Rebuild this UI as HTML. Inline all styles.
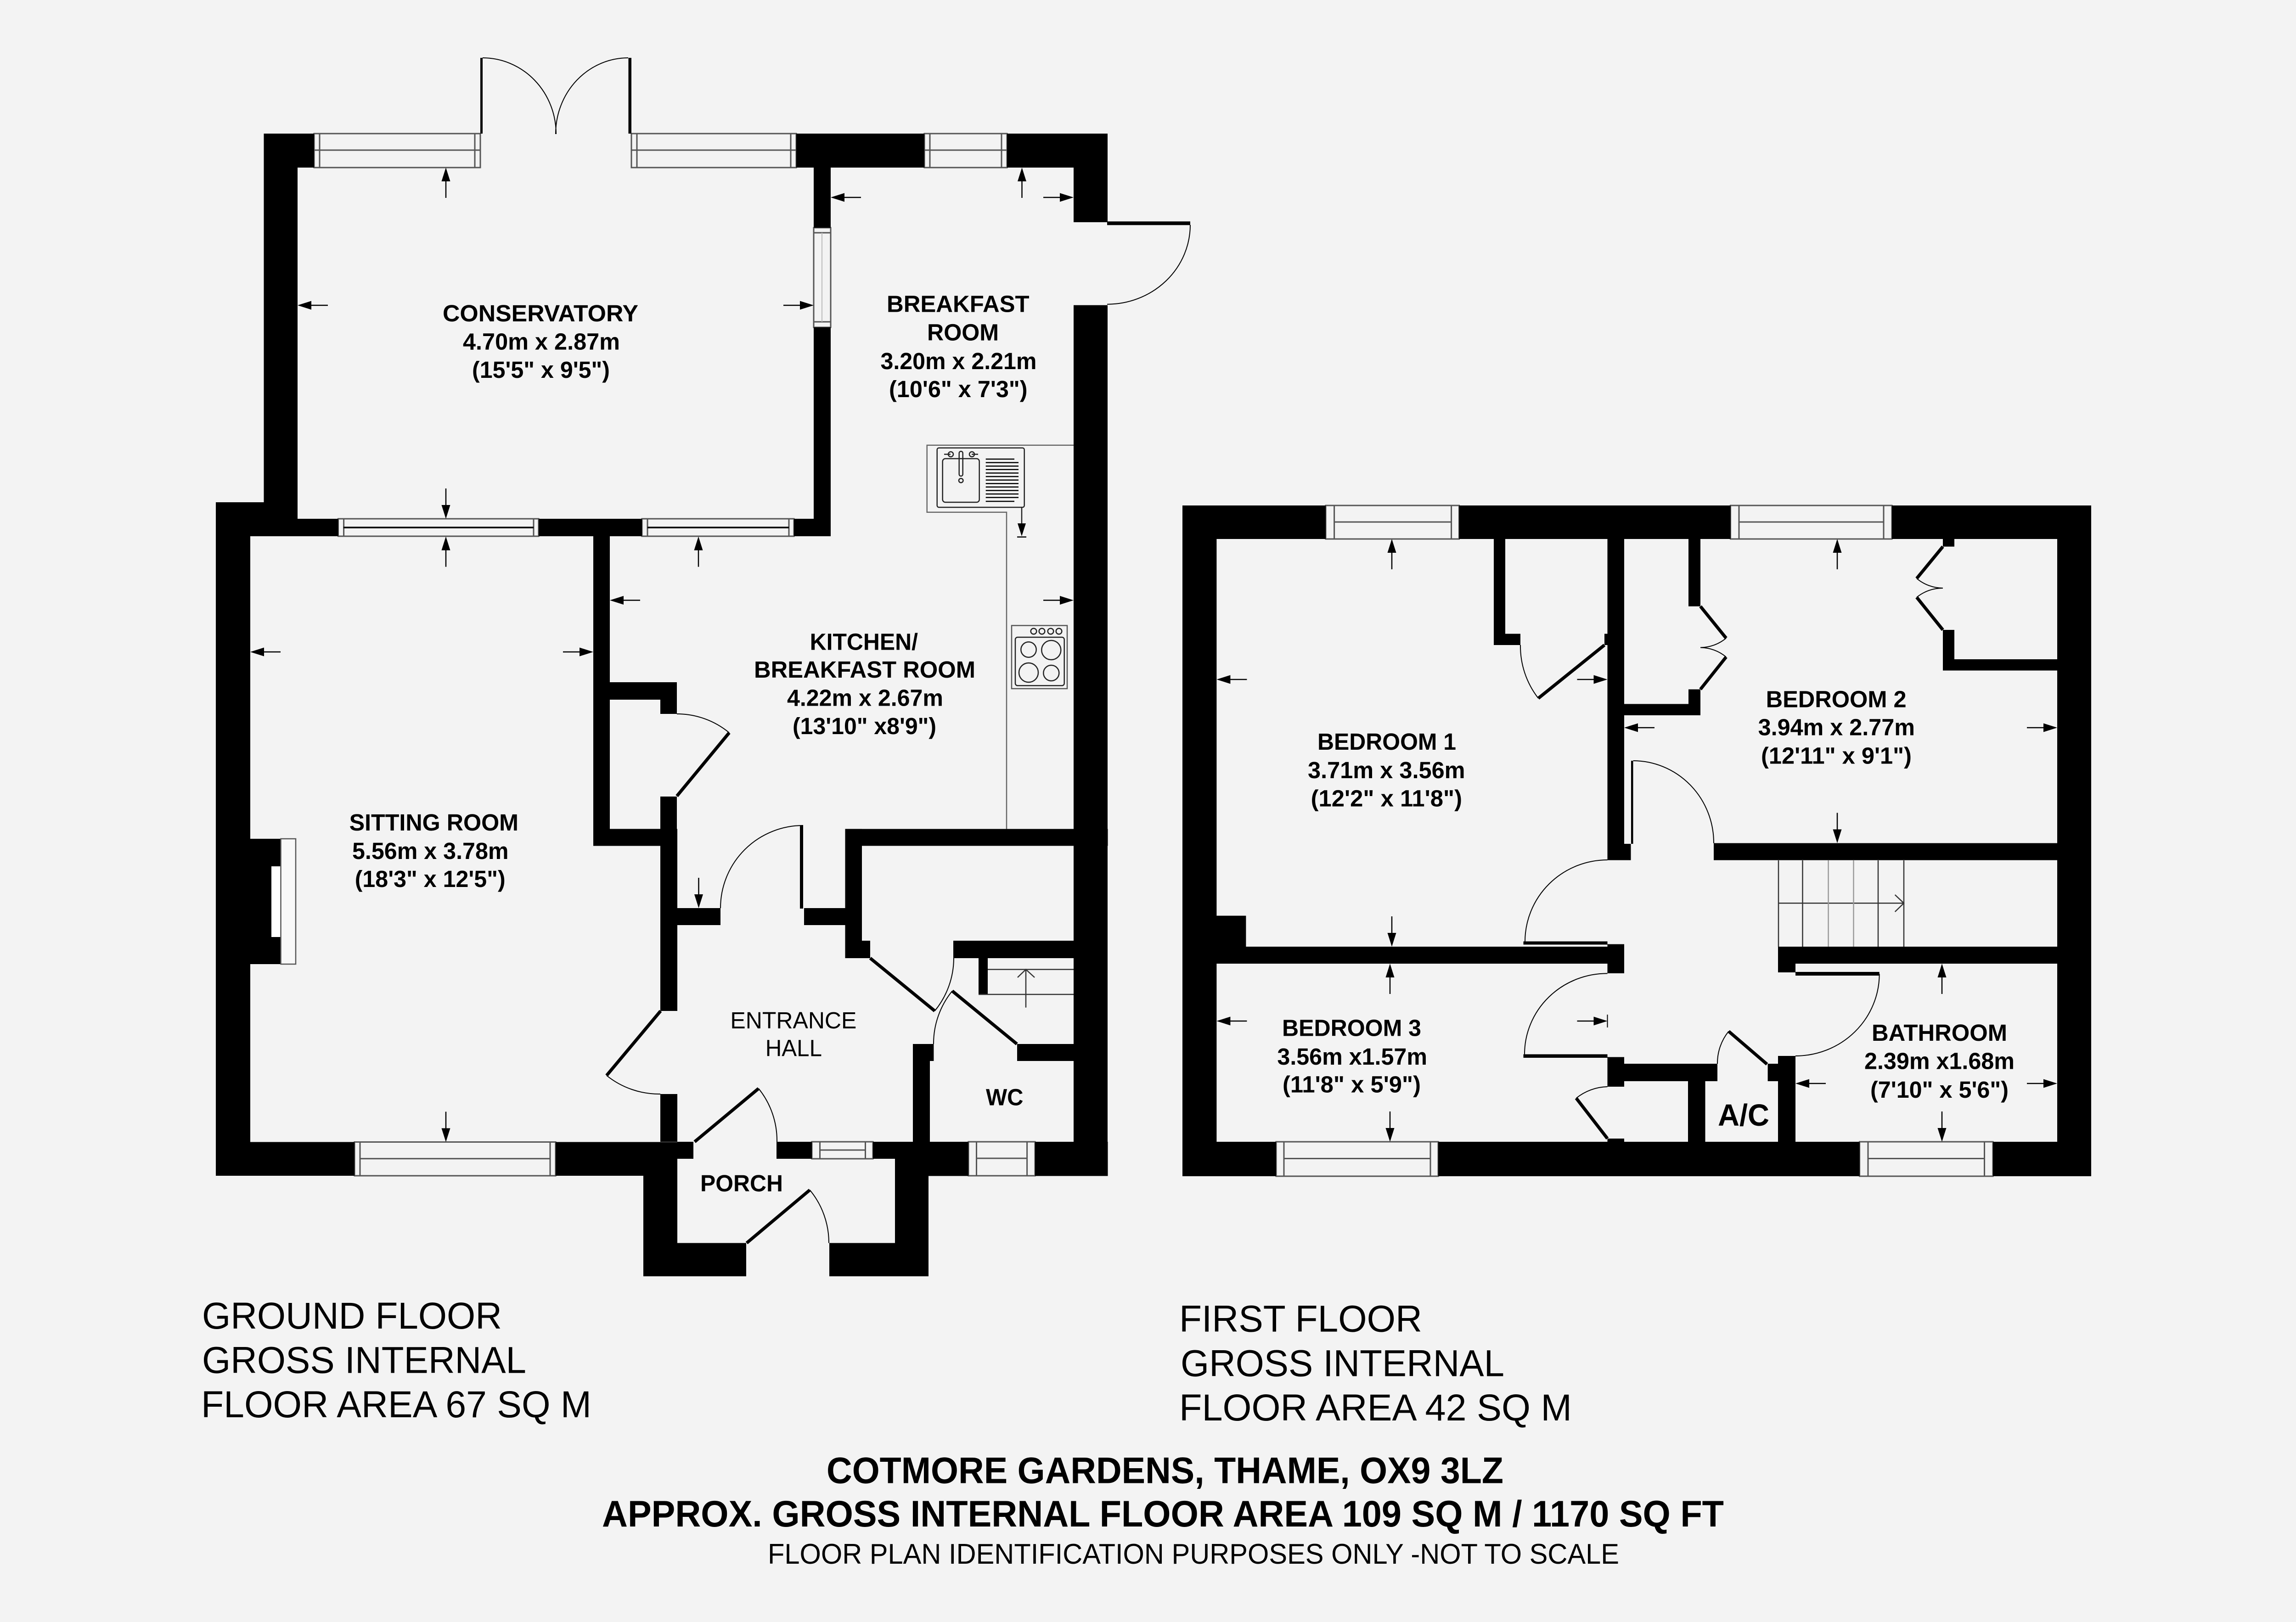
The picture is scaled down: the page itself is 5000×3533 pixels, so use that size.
<!DOCTYPE html>
<html><head><meta charset="utf-8"><title>Floor plan</title>
<style>
html,body{margin:0;padding:0;background:#f3f3f3}
svg{display:block}
text{font-family:"Liberation Sans",Arial,sans-serif;fill:#000}
.b{font-weight:bold;font-size:51px}
.r{font-size:51px}
.l{font-size:82px}
.h{font-size:81px;font-weight:bold}
.wf{fill:#f3f3f3;stroke:#555;stroke-width:3}
.wl{stroke:#555;stroke-width:3;fill:none}
.arc{fill:none;stroke:#000;stroke-width:2}
.leaf{fill:none;stroke:#000;stroke-width:7}
.th{fill:none;stroke:#333;stroke-width:2.5}
</style></head><body>
<svg xmlns="http://www.w3.org/2000/svg" width="5000" height="3533" viewBox="0 0 5000 3533">
<defs>
<g id="a"><path d="M0 0l-9.5 30h19z" fill="#000"/><path d="M0 20V66" stroke="#000" stroke-width="2.5"/></g>
</defs>
<rect width="5000" height="3533" fill="#f3f3f3"/>

<!-- GROUND FLOOR WINDOWS -->
<g>
<rect class="wf" x="684" y="291" width="362" height="74"/><path class="wl" d="M696 291V365M1034 291V365M684 327H1046"/>
<rect class="wf" x="1375" y="291" width="359" height="74"/><path class="wl" d="M1387 291V365M1722 291V365M1375 327H1734"/>
<rect class="wf" x="2013" y="291" width="180" height="74"/><path class="wl" d="M2025 291V365M2181 291V365M2013 327H2193"/>
<rect class="wf" x="1772" y="496" width="37" height="217"/><path class="wl" d="M1772 507H1809M1772 701H1809"/><path d="M1790 507V701" stroke="#bbb" stroke-width="2"/>
<rect class="wf" x="736.5" y="1130" width="436.5" height="38"/><path class="wl" d="M748.6 1130V1168M1162 1130V1168"/><path d="M748 1149H1162" stroke="#000" stroke-width="3.5"/>
<rect class="wf" x="1398" y="1130" width="331" height="38"/><path class="wl" d="M1410 1130V1168M1718 1130V1168"/><path d="M1410 1149H1718" stroke="#000" stroke-width="3.5"/>
<rect class="wf" x="772" y="2487.5" width="438" height="73.5"/><path class="wl" d="M784 2487.5V2561M1198 2487.5V2561M784 2523.7H1198"/>
<rect class="wf" x="1768" y="2487" width="133" height="37"/><path class="wl" d="M1785.5 2487V2524M1884.5 2487V2524M1785.5 2505H1884.5"/>
<rect class="wf" x="2109" y="2487" width="145" height="74"/><path class="wl" d="M2126.5 2487V2561M2236.6 2487V2561M2126.5 2523H2236.6"/>
</g>

<!-- GROUND FLOOR WALLS -->
<g fill="#000">
<rect x="574.5" y="291" width="73.5" height="803"/>
<rect x="574.5" y="291" width="109.5" height="74"/>
<rect x="1046" y="126" width="5" height="165"/>
<rect x="1368.5" y="126" width="6.5" height="165"/>
<rect x="1734" y="291" width="279" height="74"/>
<rect x="2193" y="291" width="219" height="74"/>
<rect x="2338" y="291" width="74" height="193"/>
<rect x="2338" y="664.7" width="74" height="1896.8"/>
<rect x="2411" y="482.3" width="181" height="8"/>
<rect x="1772" y="365" width="37" height="131"/>
<rect x="1772" y="713" width="37" height="455"/>
<rect x="470" y="1094" width="178" height="74"/>
<rect x="648" y="1130" width="88.5" height="38"/>
<rect x="1173" y="1130" width="225" height="38"/>
<rect x="1729" y="1130" width="80" height="38"/>
<rect x="470" y="1094" width="75" height="1467"/>
<rect x="545" y="1827" width="66.5" height="273"/>
<rect x="1292" y="1168" width="36" height="637.5"/>
<rect x="1292" y="1486" width="182" height="38"/>
<rect x="1438" y="1524" width="36" height="31"/>
<rect x="1438" y="1735" width="36" height="70.5"/>
<rect x="1292" y="1805.5" width="183" height="37"/>
<rect x="1438" y="1842" width="37" height="360"/>
<rect x="1475" y="1978" width="94" height="37"/>
<rect x="1742" y="1798" width="7" height="181"/>
<rect x="1751" y="1978" width="89.5" height="37"/>
<rect x="1840.5" y="1805.6" width="36.5" height="243.4"/>
<rect x="1840.5" y="1805.6" width="572" height="36.8"/>
<rect x="1840.5" y="2049" width="54.5" height="38"/>
<rect x="2076" y="2049" width="336" height="38"/>
<rect x="2131" y="2087" width="20" height="79"/>
<rect x="2215" y="2274" width="197" height="37"/>
<rect x="1988" y="2274" width="45.4" height="37"/>
<rect x="1988" y="2311" width="37" height="176"/>
<rect x="1438" y="2383" width="37" height="104"/>
<rect x="470" y="2487.5" width="302" height="73.5"/>
<rect x="1210" y="2487.5" width="265" height="73.5"/>
<rect x="1475" y="2487" width="35" height="37"/>
<rect x="1691" y="2487" width="77" height="37"/>
<rect x="1901" y="2487" width="208" height="37"/>
<rect x="1949" y="2487" width="160" height="74.5"/>
<rect x="2254" y="2487" width="158.5" height="74.5"/>
<rect x="1401" y="2561" width="74" height="219"/>
<rect x="1401" y="2707.5" width="224" height="72.5"/>
<rect x="1949" y="2561" width="73" height="219"/>
<rect x="1806" y="2707.5" width="216" height="72.5"/>
</g>
<!-- fireplace -->
<rect x="591" y="1887" width="20.5" height="154" fill="#fff"/>
<rect x="611.5" y="1827" width="32.5" height="273" fill="#f8f8f8" stroke="#555" stroke-width="2.5"/>

<!-- GROUND FLOOR DOORS -->
<path class="arc" d="M1051 126A160 166 0 0 1 1211 292M1368 126A158 166 0 0 0 1210 292"/>
<path class="arc" d="M2592 490A181 173 0 0 1 2411 662.7"/>
<path class="arc" d="M1474 1555A179 179 0 0 1 1588 1596"/>
<path class="leaf" d="M1588 1596L1474 1734"/>
<path class="arc" d="M1749 1798A180 180 0 0 0 1569 1978"/>
<path class="leaf" d="M1895 2087L2035.6 2202"/>
<path class="arc" d="M2035.6 2202A182 182 0 0 0 2077 2087"/>
<path class="leaf" d="M2214.5 2274L2073.7 2158.5"/>
<path class="arc" d="M2073.7 2158.5A182 182 0 0 0 2033 2274"/>
<path class="leaf" d="M1438.6 2202L1321 2342.6"/>
<path class="arc" d="M1321 2342.6A183 183 0 0 0 1438 2383"/>
<path class="leaf" d="M1512.7 2487L1652 2371"/>
<path class="arc" d="M1652 2371A181 181 0 0 1 1692 2487"/>
<path class="leaf" d="M1626 2707.5L1763.5 2592"/>
<path class="arc" d="M1763.5 2592A180 180 0 0 1 1805 2707.5"/>

<!-- stair stub ground -->
<path class="th" d="M2151 2111.6H2338M2131 2166H2338"/>
<path class="th" d="M2234 2194.6V2111.6M2216 2129L2234 2111.6L2253 2129"/>

<!-- KITCHEN FITTINGS -->
<path d="M2338 969.7H2018.7V1115.8H2192V1805.5" fill="none" stroke="#666" stroke-width="2.5"/>
<g fill="none" stroke="#222" stroke-width="2.5">
<rect x="2040.7" y="975.6" width="190" height="129.4" rx="4"/>
<rect x="2052.7" y="999" width="80" height="95" rx="6"/>
<rect x="2088.7" y="983" width="8" height="54" rx="4"/>
<ellipse cx="2092.7" cy="1046.7" rx="4.7" ry="4.6"/>
<circle cx="2070.5" cy="989.5" r="5.5"/>
<circle cx="2116.5" cy="989.5" r="5.5"/>
<path d="M2056 989.5H2070M2116 989.5H2130"/>
</g>
<path d="M2146.7 1000H2209M2146.7 1007.6H2218M2146.7 1015.2H2218M2146.7 1022.8H2218M2146.7 1030.4H2218M2146.7 1038H2218M2146.7 1045.6H2218M2146.7 1053.2H2218M2146.7 1060.8H2218M2146.7 1068.4H2218M2146.7 1076H2218M2146.7 1083.6H2218M2146.7 1092H2209" stroke="#000" stroke-width="2.5"/>
<path d="M2225 1105V1140" stroke="#222" stroke-width="2.5"/>
<path d="M2216 1140H2234L2225 1168z" fill="#000"/>
<path d="M2215 1169.6H2235" stroke="#000" stroke-width="2.5"/>
<g fill="none" stroke="#222" stroke-width="2.5">
<rect x="2203" y="1362.5" width="121" height="137.5" stroke="#555"/>
<rect x="2211" y="1388" width="106.7" height="105.4" rx="5"/>
<circle cx="2240" cy="1415" r="16.7"/><circle cx="2289.3" cy="1416" r="21"/>
<circle cx="2240" cy="1465" r="21"/><circle cx="2289.3" cy="1466" r="17"/>
<circle cx="2251" cy="1375" r="6.3"/><circle cx="2269" cy="1375" r="6.3"/><circle cx="2288" cy="1375" r="6.3"/><circle cx="2306" cy="1375" r="6.3"/>
</g>

<!-- GROUND FLOOR ARROWS -->
<use href="#a" transform="translate(971,365)"/>
<use href="#a" transform="translate(971,1130) rotate(180)"/>
<use href="#a" transform="translate(648,665) rotate(-90)"/>
<use href="#a" transform="translate(1772,665) rotate(90)"/>
<use href="#a" transform="translate(2225.5,365)"/>
<use href="#a" transform="translate(1809,430) rotate(-90)"/>
<use href="#a" transform="translate(2338,430) rotate(90)"/>
<use href="#a" transform="translate(971,1168.6)"/>
<use href="#a" transform="translate(1521,1168.6)"/>
<use href="#a" transform="translate(545,1420) rotate(-90)"/>
<use href="#a" transform="translate(1292,1420) rotate(90)"/>
<use href="#a" transform="translate(1328,1307.5) rotate(-90)"/>
<use href="#a" transform="translate(2338,1307.5) rotate(90)"/>
<use href="#a" transform="translate(971,2487.5) rotate(180)"/>
<use href="#a" transform="translate(1521.5,1978) rotate(180)"/>

<!-- FIRST FLOOR WINDOWS -->
<g>
<rect class="wf" x="2887" y="1101" width="290.5" height="73"/><path class="wl" d="M2905.6 1101V1174M3160.6 1101V1174M2905.6 1137H3160.6"/>
<rect class="wf" x="3768.5" y="1101" width="351.5" height="73"/><path class="wl" d="M3787 1101V1174M4102 1101V1174M3787 1137H4102"/>
<rect class="wf" x="2779" y="2487" width="353" height="75"/><path class="wl" d="M2796 2487V2562M3115 2487V2562M2796 2523.5H3115"/>
<rect class="wf" x="4049.6" y="2487" width="290.4" height="75"/><path class="wl" d="M4068 2487V2562M4321.5 2487V2562M4068 2523.5H4321.5"/>
</g>

<!-- FIRST FLOOR WALLS -->
<g fill="#000">
<rect x="2575" y="1101" width="312" height="73"/>
<rect x="3177.5" y="1101" width="591" height="73"/>
<rect x="4120" y="1101" width="434" height="73"/>
<rect x="2575" y="1101" width="74.4" height="1461"/>
<rect x="4480" y="1101" width="74" height="1461"/>
<rect x="2575" y="2487" width="204" height="75"/>
<rect x="3132" y="2487" width="917.6" height="75"/>
<rect x="4340" y="2487" width="214" height="75"/>
<rect x="3253" y="1174" width="25" height="206.5"/>
<rect x="3253" y="1380.5" width="58" height="24.5"/>
<rect x="3494" y="1380.5" width="43" height="24.5"/>
<rect x="3500.5" y="1174" width="36.5" height="664"/>
<rect x="3500.5" y="1838" width="51" height="35.6"/>
<rect x="3552" y="1657" width="4.5" height="181"/>
<rect x="3732" y="1836.5" width="822" height="37.1"/>
<rect x="3677" y="1174" width="26" height="146.7"/>
<rect x="3677" y="1501.5" width="26" height="32"/>
<rect x="3500.5" y="1533.4" width="202.5" height="24.6"/>
<rect x="4231" y="1174" width="25" height="16.6"/>
<rect x="4231" y="1372" width="25" height="64"/>
<rect x="4231" y="1436" width="323" height="24.5"/>
<rect x="2649" y="1994.6" width="64.4" height="67.4"/>
<rect x="2575" y="2062" width="962" height="37"/>
<rect x="3317.5" y="2050.5" width="183" height="7"/>
<rect x="3500.5" y="2056.6" width="36.5" height="6"/>
<rect x="3500.5" y="2099" width="36.5" height="21"/>
<rect x="3317.5" y="2296.4" width="183" height="7.6"/>
<rect x="3500.5" y="2302.5" width="36.5" height="15"/>
<rect x="3500.5" y="2317" width="239.5" height="38"/>
<rect x="3500.5" y="2355" width="36.5" height="12"/>
<rect x="3500.5" y="2480" width="36.5" height="7"/>
<rect x="3676" y="2355" width="37.5" height="132"/>
<rect x="3849.6" y="2317" width="60.4" height="38"/>
<rect x="3872" y="2355" width="38" height="132"/>
<rect x="3872" y="2300" width="38" height="17"/>
<rect x="3872" y="2062" width="682" height="37"/>
<rect x="3872" y="2099" width="38" height="19"/>
<rect x="3910" y="2117" width="182.7" height="8"/>
</g>

<!-- FIRST FLOOR DOORS -->
<path class="leaf" d="M3350 1521L3494 1405"/>
<path class="arc" d="M3311 1405A185 185 0 0 0 3350 1521"/>
<path class="arc" d="M3556.7 1657A176 179 0 0 1 3732 1836.5"/>
<path class="arc" d="M3500.5 1873A180 178 0 0 0 3321 2050.5"/>
<path class="arc" d="M3500.5 2120.4A180 176 0 0 0 3320 2296.4"/>
<path class="leaf" d="M3432.5 2392L3500.5 2480"/>
<path class="arc" d="M3500.5 2367A113 113 0 0 0 3432.5 2392"/>
<path class="leaf" d="M3764.5 2246.4L3848 2318"/>
<path class="arc" d="M3764.5 2246.4A110 110 0 0 0 3740 2317"/>
<path class="arc" d="M4092.7 2121.4A182.7 179 0 0 1 3910 2300"/>
<path class="leaf" d="M3703 1320.7L3759 1390M3759 1431L3703 1501.5M4231 1190.6L4174 1260M4174 1301L4231 1372"/>
<path class="arc" d="M3759 1390A89 89 0 0 1 3703 1410.5M3759 1431A89 89 0 0 0 3703 1410.5M4174 1260A90 90 0 0 0 4231 1281M4174 1301A90 90 0 0 1 4231 1281"/>

<!-- stairs -->
<path class="th" d="M3873 1874V2062M3925.5 1874V2062M4090 1874V2062M4146 1874V2062M3873 1967.3H4146M4126.7 1949L4146 1967.3L4126.7 1986"/>
<path d="M3981.6 1874V2062M4036.5 1874V2062" stroke="#999" stroke-width="2.5"/>

<!-- FIRST FLOOR ARROWS -->
<use href="#a" transform="translate(3031,1174)"/>
<use href="#a" transform="translate(2649.4,1480) rotate(-90)"/>
<use href="#a" transform="translate(3500.5,1480) rotate(90)"/>
<use href="#a" transform="translate(3031,2062) rotate(180)"/>
<use href="#a" transform="translate(4001,1174)"/>
<use href="#a" transform="translate(3537,1585) rotate(-90)"/>
<use href="#a" transform="translate(4480,1585) rotate(90)"/>
<use href="#a" transform="translate(4001,1836.5) rotate(180)"/>
<use href="#a" transform="translate(3027,2099)"/>
<use href="#a" transform="translate(2649.4,2224) rotate(-90)"/>
<use href="#a" transform="translate(3500.5,2224) rotate(90)"/>
<use href="#a" transform="translate(3027,2487) rotate(180)"/>
<path d="M3500.5 2210V2238" stroke="#000" stroke-width="2"/>
<use href="#a" transform="translate(4229,2099)"/>
<use href="#a" transform="translate(3910,2360) rotate(-90)"/>
<use href="#a" transform="translate(4480,2360) rotate(90)"/>
<use href="#a" transform="translate(4229,2487) rotate(180)"/>

<!-- ROOM LABELS -->
<g>
<text class="b" x="964" y="700" textLength="426" lengthAdjust="spacingAndGlyphs">CONSERVATORY</text>
<text class="b" x="1008" y="761.7" textLength="342" lengthAdjust="spacingAndGlyphs">4.70m x 2.87m</text>
<text class="b" x="1028" y="823" textLength="300" lengthAdjust="spacingAndGlyphs">(15'5&quot; x 9'5&quot;)</text>
<text class="b" x="1931" y="679.4" textLength="310.6" lengthAdjust="spacingAndGlyphs">BREAKFAST</text>
<text class="b" x="2019" y="741.7" textLength="156" lengthAdjust="spacingAndGlyphs">ROOM</text>
<text class="b" x="1917.5" y="804" textLength="340" lengthAdjust="spacingAndGlyphs">3.20m x 2.21m</text>
<text class="b" x="1936" y="865" textLength="301.6" lengthAdjust="spacingAndGlyphs">(10'6&quot; x 7'3&quot;)</text>
<text class="b" x="1763.6" y="1415.5" textLength="235.4" lengthAdjust="spacingAndGlyphs">KITCHEN/</text>
<text class="b" x="1642" y="1476" textLength="482" lengthAdjust="spacingAndGlyphs">BREAKFAST ROOM</text>
<text class="b" x="1714" y="1537.5" textLength="340" lengthAdjust="spacingAndGlyphs">4.22m x 2.67m</text>
<text class="b" x="1726" y="1599" textLength="313" lengthAdjust="spacingAndGlyphs">(13'10&quot; x8'9&quot;)</text>
<text class="b" x="760.6" y="1809" textLength="368.4" lengthAdjust="spacingAndGlyphs">SITTING ROOM</text>
<text class="b" x="767" y="1871" textLength="340.5" lengthAdjust="spacingAndGlyphs">5.56m x 3.78m</text>
<text class="b" x="772.7" y="1932" textLength="328" lengthAdjust="spacingAndGlyphs">(18'3&quot; x 12'5&quot;)</text>
<text class="r" x="1590.4" y="2240" textLength="275" lengthAdjust="spacingAndGlyphs">ENTRANCE</text>
<text class="r" x="1666.7" y="2300.4" textLength="123.3" lengthAdjust="spacingAndGlyphs">HALL</text>
<text class="b" x="2147" y="2407.5" textLength="81.5" lengthAdjust="spacingAndGlyphs">WC</text>
<text class="b" x="1525" y="2595" textLength="180" lengthAdjust="spacingAndGlyphs">PORCH</text>
<text class="b" x="2869" y="1633" textLength="302" lengthAdjust="spacingAndGlyphs">BEDROOM 1</text>
<text class="b" x="2848" y="1695" textLength="342.6" lengthAdjust="spacingAndGlyphs">3.71m x 3.56m</text>
<text class="b" x="2854.6" y="1756.5" textLength="329.4" lengthAdjust="spacingAndGlyphs">(12'2&quot; x 11'8&quot;)</text>
<text class="b" x="3845.6" y="1540.5" textLength="306" lengthAdjust="spacingAndGlyphs">BEDROOM 2</text>
<text class="b" x="3828.6" y="1601.7" textLength="341.4" lengthAdjust="spacingAndGlyphs">3.94m x 2.77m</text>
<text class="b" x="3835" y="1663.5" textLength="328" lengthAdjust="spacingAndGlyphs">(12'11&quot; x 9'1&quot;)</text>
<text class="b" x="2792" y="2256.6" textLength="303" lengthAdjust="spacingAndGlyphs">BEDROOM 3</text>
<text class="b" x="2781.4" y="2319" textLength="326.6" lengthAdjust="spacingAndGlyphs">3.56m x1.57m</text>
<text class="b" x="2793" y="2379.6" textLength="301" lengthAdjust="spacingAndGlyphs">(11'8&quot; x 5'9&quot;)</text>
<text class="b" x="4076" y="2267" textLength="295" lengthAdjust="spacingAndGlyphs">BATHROOM</text>
<text class="b" x="4060" y="2328.6" textLength="327" lengthAdjust="spacingAndGlyphs">2.39m x1.68m</text>
<text class="b" x="4073" y="2391" textLength="301" lengthAdjust="spacingAndGlyphs">(7'10&quot; x 5'6&quot;)</text>
<text class="b" style="font-size:67px" x="3741" y="2452" textLength="112" lengthAdjust="spacingAndGlyphs">A/C</text>
</g>

<!-- FLOOR SUMMARIES -->
<text class="l" x="440" y="2894" textLength="653" lengthAdjust="spacingAndGlyphs">GROUND FLOOR</text>
<text class="l" x="440" y="2990.7" textLength="706" lengthAdjust="spacingAndGlyphs">GROSS INTERNAL</text>
<text class="l" x="438" y="3087" textLength="850" lengthAdjust="spacingAndGlyphs">FLOOR AREA 67 SQ M</text>
<text class="l" x="2568" y="2900.7" textLength="529" lengthAdjust="spacingAndGlyphs">FIRST FLOOR</text>
<text class="l" x="2571" y="2997.7" textLength="705" lengthAdjust="spacingAndGlyphs">GROSS INTERNAL</text>
<text class="l" x="2568" y="3094" textLength="855" lengthAdjust="spacingAndGlyphs">FLOOR AREA 42 SQ M</text>
<text class="h" x="1800" y="3230.7" textLength="1474" lengthAdjust="spacingAndGlyphs">COTMORE GARDENS, THAME, OX9 3LZ</text>
<text class="h" x="1311" y="3325" textLength="2443" lengthAdjust="spacingAndGlyphs">APPROX. GROSS INTERNAL FLOOR AREA 109 SQ M / 1170 SQ FT</text>
<text style="font-size:62px" x="1672" y="3406" textLength="1854" lengthAdjust="spacingAndGlyphs">FLOOR PLAN IDENTIFICATION PURPOSES ONLY -NOT TO SCALE</text>
</svg>
</body></html>
